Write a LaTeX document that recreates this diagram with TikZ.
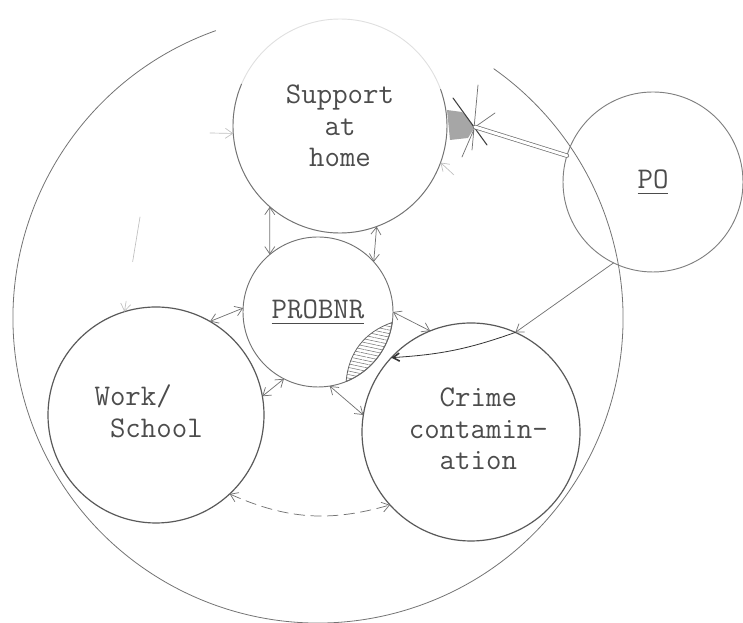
\documentclass[tikz,border=0pt]{standalone}
\usetikzlibrary{arrows.meta,patterns.meta}
\newcommand{\ulabel}[1]{\leavevmode\vtop{\hbox{#1}\kern3pt\hrule height 1.1pt}}
\begin{document}
\begin{tikzpicture}[x=0.75pt, y=0.75pt, line join=round, line cap=round,
  >={Straight Barb[length=5.5pt,width=7.5pt]},
  font=\ttfamily\fontsize{22.5}{23.6}\selectfont,
  ring/.style={circle, draw=black!55, line width=0.7pt, inner sep=0pt, outer sep=0pt, text=black!70, align=center},
  link/.style={draw=black!55, line width=0.55pt},
  faint/.style={draw=black!25, line width=0.5pt}]
\useasboundingbox (0,0) rectangle (743,623);
\draw[black!55, line width=0.6pt] (318,305) ++(109.6:305) arc[start angle=109.6, end angle=414.8, radius=305];
\node[ring, draw=black!12, minimum size=160.5pt] (support) at (340,497) {Support\\at\\home};
\draw[black!55, line width=0.7pt] (support.157) arc[start angle=157, end angle=380, radius=107];
\node[ring, minimum size=112.5pt] (probnr) at (318,311) {\ulabel{PROBNR}};
\node[ring, draw=black!65, line width=0.9pt, minimum size=162pt] (work) at (156,208) {\begin{tabular}{@{}l@{}}Work/\\\phantom{W}School\end{tabular}\hspace{11pt}};
\node[ring, draw=black!65, line width=0.9pt, minimum size=163.5pt] (crime) at (471,191) {\hspace{11pt}\begin{tabular}{@{}c@{}}Crime\\contamin-\\ation\end{tabular}};
\node[ring, draw=black!50, minimum size=135pt] (po) at (653,441) {\ulabel{PO}};
\draw[link,<->] (support.229) -- (probnr.130);
\draw[link,<->] (support.-70) -- (probnr.42);
\draw[link,<->] (probnr.177) -- (work.60);
\draw[link,<->] (probnr.243) -- (work.10);
\draw[link,<->] (probnr.0) -- (crime.112);
\draw[link,<->] (probnr.-81) -- (crime.171);
\draw[link,<->, dash pattern=on 8pt off 4.5pt] (work.-47) to[bend right=20] (crime.222);
\draw[link,->] (po.244) -- (crime.66);
\draw[black!80, line width=0.6pt, -{Straight Barb[length=5pt,width=6pt,line width=1.2pt]}] (crime.66) to[bend left=8] (crime.137);
\path[draw=black!60, line width=0.6pt, pattern={Lines[angle=-12, distance=2.6pt, line width=0.4pt]}, pattern color=black!55] (probnr.-8) arc[start angle=-8, end angle=-68, radius=75] to[bend left=33] (probnr.-8) -- cycle;
\coordinate (burst) at (475,496);
\fill[black!35] (447,513) -- (462,511) -- (burst) -- (468,485) -- (450,483) -- cycle;
\draw[black!75, line width=0.8pt] (453,525) -- (487,478);
\draw[link] (478,538) -- (472,473) (burst) -- (495,510) (burst) -- (462,466);
\draw[link, double, double distance=2.2pt] (burst) -- (po.163);
\coordinate (lefttip) at (210,490);
\draw[faint,->] (lefttip) -- (support.184);
\coordinate (righttip) at (454,448);
\draw[faint,->] (righttip) -- (support.-20);
\coordinate (upper) at (140,406);
\draw[faint,->, dash pattern=on 34pt off 30pt] (upper) -- (work.107);
\end{tikzpicture}
\end{document}
